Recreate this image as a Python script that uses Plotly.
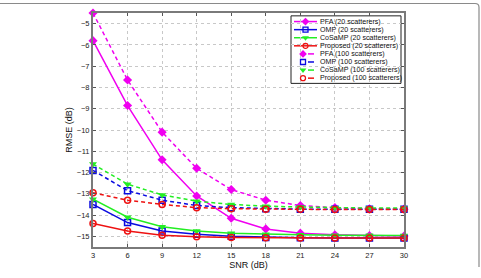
import plotly.graph_objects as go

snr = [3, 6, 9, 12, 15, 18, 21, 24, 27, 30]

pfa_20 = [-5.8, -8.85, -11.4, -13.1, -14.15, -14.65, -14.85, -14.93, -14.96, -14.98]
omp_20 = [-13.5, -14.35, -14.75, -14.9, -15.0, -15.05, -15.07, -15.08, -15.08, -15.08]
cosamp_20 = [-13.25, -14.1, -14.55, -14.75, -14.85, -14.9, -14.92, -14.95, -14.95, -14.96]
prop_20 = [-14.4, -14.75, -14.95, -15.02, -15.05, -15.07, -15.08, -15.08, -15.08, -15.08]

pfa_100 = [-4.5, -7.65, -10.1, -11.8, -12.8, -13.3, -13.55, -13.65, -13.7, -13.72]
omp_100 = [-11.9, -12.85, -13.3, -13.55, -13.65, -13.7, -13.72, -13.72, -13.73, -13.73]
cosamp_100 = [-11.6, -12.55, -13.05, -13.35, -13.5, -13.58, -13.62, -13.65, -13.67, -13.67]
prop_100 = [-12.95, -13.3, -13.5, -13.65, -13.7, -13.72, -13.73, -13.74, -13.74, -13.74]

labels = ["PFA (20 scatterers)", "OMP (20 scatterers)", "CoSaMP (20 scatterers)",
          "Proposed (20 scatterers)", "PFA (100 scatterers)", "OMP (100 scatterers)",
          "CoSaMP (100 scatterers)", "Proposed (100 scatterers)"]

MAG, BLU, GRN, RED = "#f000f0", "#0a0ae0", "#22ee22", "#ee1111"

styles = [
    (pfa_20, MAG, "diamond", "solid"),
    (omp_20, BLU, "square-open", "solid"),
    (cosamp_20, GRN, "triangle-down", "solid"),
    (prop_20, RED, "circle-open", "solid"),
    (pfa_100, MAG, "diamond", "dash"),
    (omp_100, BLU, "square-open", "dash"),
    (cosamp_100, GRN, "triangle-down", "dash"),
    (prop_100, RED, "circle-open", "dash"),
]

W, H = 481, 278
L, R, T, B = 93, 404, 11, 257

fig = go.Figure()
for (ys, col, sym, dash), name in zip(styles, labels):
    fig.add_trace(go.Scatter(
        x=snr, y=ys, mode="lines+markers", name=name, showlegend=False,
        line=dict(color=col, width=1.5, dash=dash if dash == "solid" else "4px,3px"),
        marker=dict(symbol=sym, size=7 if "open" not in sym else 6, color=col,
                    line=dict(color=col, width=1.5 if "open" in sym else 0)),
        cliponaxis=False,
    ))


def px(x):
    return (x - L) / (R - L)


def py(y):
    return (B - y) / (B - T)


shapes = []
annotations = []
leg_x0, leg_x1, leg_y0, leg_y1 = 291, 401, 14, 85
shapes.append(dict(type="rect", xref="paper", yref="paper",
                   x0=px(leg_x0), x1=px(leg_x1), y0=py(leg_y1), y1=py(leg_y0),
                   line=dict(color="#222222", width=1), fillcolor="white", layer="between"))
row_y = [20, 28.5, 37, 45.5, 54, 62.5, 71, 79.5]
for i, ((ys, col, sym, dash), name) in enumerate(zip(styles, labels)):
    yy = row_y[i]
    if dash == "solid":
        shapes.append(dict(type="line", xref="paper", yref="paper",
                           x0=px(294), x1=px(317), y0=py(yy), y1=py(yy),
                           line=dict(color=col, width=1.5), layer="between"))
        mxx = 305.5
    else:
        shapes.append(dict(type="line", xref="paper", yref="paper",
                           x0=px(308), x1=px(314), y0=py(yy), y1=py(yy),
                           line=dict(color=col, width=1.5), layer="between"))
        mxx = 303
    annotations.append(dict(text=name, xref="paper", yref="paper", x=px(318), y=py(yy),
                            xanchor="left", yanchor="middle", showarrow=False,
                            font=dict(size=7.1, color="#111111", family="Liberation Sans, Arial")))
    fig.add_trace(go.Scatter(
        x=[mxx], y=[yy], xaxis="x2", yaxis="y2", mode="markers", showlegend=False,
        marker=dict(symbol=sym, size=6 if "open" not in sym else 5, color=col,
                    line=dict(color=col, width=1.3 if "open" in sym else 0)),
        cliponaxis=False, hoverinfo="skip",
    ))

# outer frame
shapes.append(dict(type="path", xref="paper", yref="paper",
                   path=f"M {px(0)},{py(1)} L {px(475)},{py(1)} Q {px(479)},{py(1)} {px(479)},{py(5)} L {px(479)},{py(278)}",
                   line=dict(color="#8a8a8a", width=1.2)))

axis_common = dict(
    showgrid=True, gridcolor="#c8c8c8", griddash="dot", gridwidth=1,
    showline=True, linecolor="#7a7a7a", linewidth=2, mirror="ticks",
    ticks="inside", ticklen=3, tickcolor="#555555", zeroline=False,
    tickfont=dict(size=7.5, color="#222222", family="Liberation Sans, Arial"),
)

fig.update_layout(
    width=W, height=H,
    margin=dict(l=L, r=W - R, t=T, b=H - B),
    paper_bgcolor="white", plot_bgcolor="white",
    showlegend=False,
    xaxis=dict(range=[3, 30], tickvals=snr, **axis_common,
               title=dict(text="SNR (dB)", standoff=1,
                          font=dict(size=9, color="#111111", family="Liberation Sans, Arial"))),
    yaxis=dict(range=[-15.5, -4.5], tickvals=list(range(-15, -4)), **axis_common,
               title=dict(text="RMSE (dB)", standoff=3,
                          font=dict(size=9, color="#111111", family="Liberation Sans, Arial"))),
    xaxis2=dict(overlaying="x", range=[L, R], visible=False, fixedrange=True),
    yaxis2=dict(overlaying="y", range=[B, T], visible=False, fixedrange=True),
    shapes=shapes, annotations=annotations,
)

fig.write_html("out.html")
